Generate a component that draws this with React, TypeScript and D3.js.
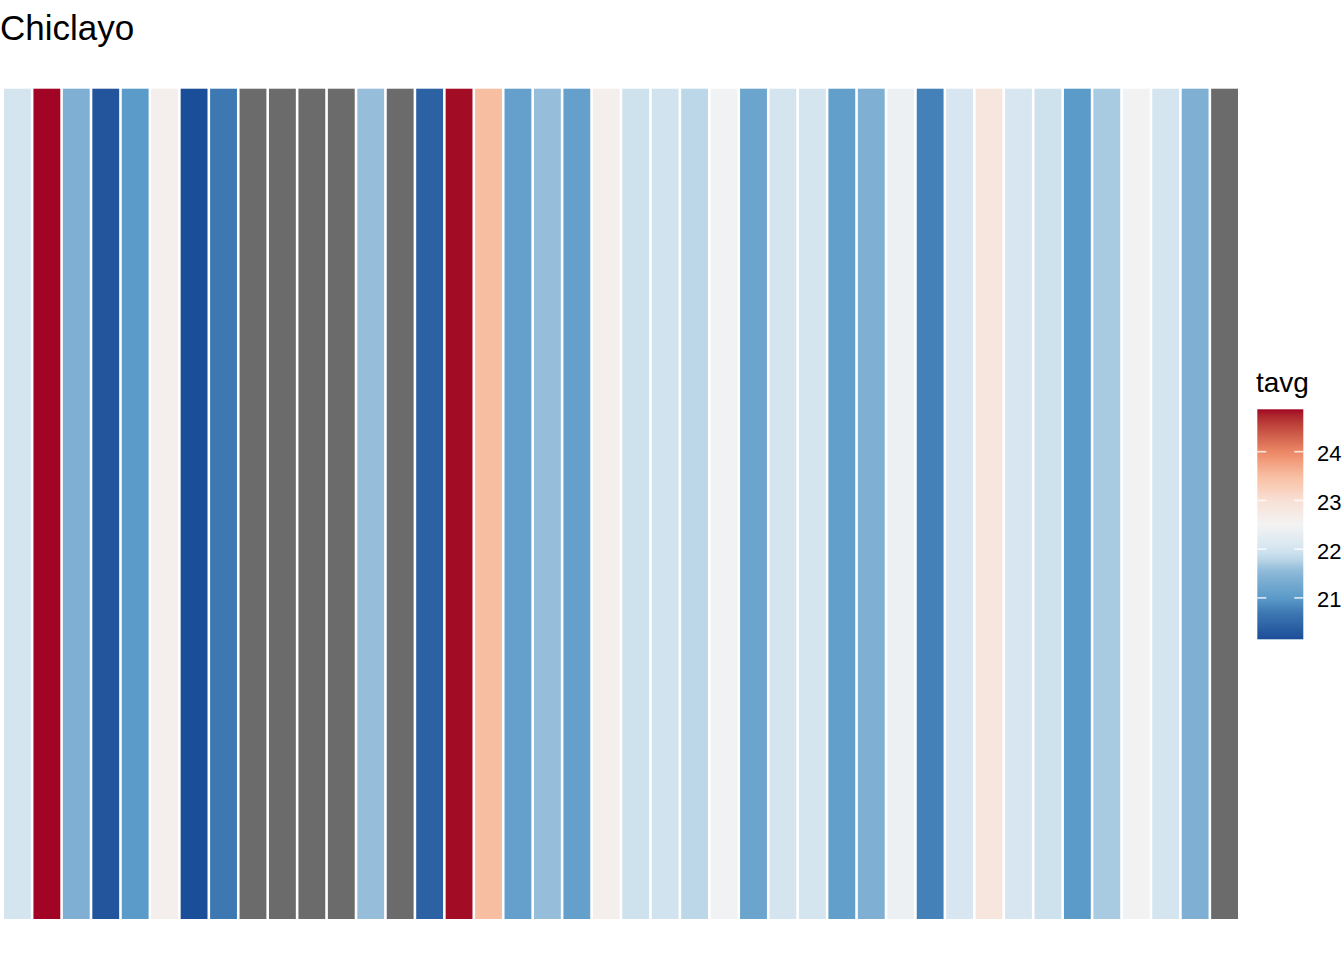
import React, { useEffect, useRef } from 'react';
import * as d3 from 'd3';

// Average temperature per year for Chiclayo (null = missing year)
const years = d3.range(1, 43);
const tavg: (number | null)[] = [
  22.0, 24.87, 21.4, 20.25, 21.0, 22.62, 20.15, 20.7, null, null,
  null, null, 21.6, null, 20.4, 24.85, 23.5, 21.1, 21.6, 21.1,
  22.6, 21.95, 21.97, 21.8, 22.45, 21.17, 22.0, 22.0, 21.08, 21.4,
  22.4, 20.78, 22.05, 22.85, 22.05, 21.95, 21.0, 21.7, 22.52, 22.0,
  21.4, null,
];

// Palette (value -> colour)
const paletteStops = [20.15, 20.7, 21.0, 21.4, 21.6, 21.8, 22.0, 22.5, 23.0, 23.5, 24.0, 24.87];
const paletteColors = [
  '#1b4e98', '#3d78b3', '#5b9bc9', '#7fb0d3', '#96bedb', '#bcd8e8',
  '#d4e5f0', '#f3f3f3', '#f8e0d5', '#f8bea1', '#ec8766', '#a10424',
];
const legendTicks = [21, 22, 23, 24];

const naColor = '#6b6b6b';
const font = '"Liberation Sans", Arial, Helvetica, sans-serif';

const App = () => {
  const chartRef = useRef<SVGSVGElement | null>(null);

  useEffect(() => {
    const width = 1344;
    const height = 960;
    const panel = { left: 4, right: 1238, top: 88.7, bottom: 919 };
    const gap = 2.6;

    const svg = d3.select(chartRef.current);
    svg.selectAll('*').remove();
    svg.attr('width', width).attr('height', height);

    svg.append('rect').attr('width', width).attr('height', height).attr('fill', '#ffffff');

    const color = d3
      .scaleLinear<string>()
      .domain(paletteStops)
      .range(paletteColors)
      .interpolate(d3.interpolateLab)
      .clamp(true);

    // stripes
    const x = d3
      .scaleBand<number>()
      .domain(years)
      .range([panel.left - gap / 2, panel.right + gap / 2])
      .padding(0);

    svg
      .append('g')
      .selectAll('rect')
      .data(tavg)
      .enter()
      .append('rect')
      .attr('x', (d, i) => (x(years[i]) as number) + gap / 2)
      .attr('y', panel.top)
      .attr('width', x.bandwidth() - gap)
      .attr('height', panel.bottom - panel.top)
      .attr('fill', (d) => (d == null ? naColor : color(d)));

    // title
    svg
      .append('text')
      .attr('x', 0)
      .attr('y', 39.5)
      .attr('font-family', font)
      .attr('font-size', 35)
      .attr('fill', '#000')
      .text('Chiclayo');

    // legend
    const valid = tavg.filter((d): d is number => d != null);
    const lo = d3.min(valid) as number;
    const hi = d3.max(valid) as number;
    const bar = { x: 1257.3, w: 46, top: 409.3, bottom: 639.3 };
    const y = d3.scaleLinear().domain([lo, hi]).range([bar.bottom, bar.top]);

    const grad = svg
      .append('defs')
      .append('linearGradient')
      .attr('id', 'tavg-grad')
      .attr('x1', 0)
      .attr('y1', 1)
      .attr('x2', 0)
      .attr('y2', 0);
    d3.range(0, 1.0001, 0.02).forEach((t) => {
      grad
        .append('stop')
        .attr('offset', t)
        .attr('stop-color', color(lo + t * (hi - lo)));
    });

    const legend = svg.append('g');
    legend
      .append('text')
      .attr('x', 1256)
      .attr('y', 391.5)
      .attr('font-family', font)
      .attr('font-size', 28)
      .attr('fill', '#000')
      .text('tavg');

    legend
      .append('rect')
      .attr('x', bar.x)
      .attr('y', bar.top)
      .attr('width', bar.w)
      .attr('height', bar.bottom - bar.top)
      .attr('fill', 'url(#tavg-grad)');

    const ticks = legend.selectAll('g.tick').data(legendTicks).enter().append('g').attr('class', 'tick');
    ticks
      .append('line')
      .attr('x1', bar.x)
      .attr('x2', bar.x + 9)
      .attr('y1', (d) => y(d))
      .attr('y2', (d) => y(d))
      .attr('stroke', '#ffffff')
      .attr('stroke-opacity', 0.8)
      .attr('stroke-width', 1.6);
    ticks
      .append('line')
      .attr('x1', bar.x + bar.w - 9)
      .attr('x2', bar.x + bar.w)
      .attr('y1', (d) => y(d))
      .attr('y2', (d) => y(d))
      .attr('stroke', '#ffffff')
      .attr('stroke-opacity', 0.8)
      .attr('stroke-width', 1.6);
    ticks
      .append('text')
      .attr('x', 1317)
      .attr('y', (d) => y(d) + 9.5)
      .attr('font-family', font)
      .attr('font-size', 22)
      .attr('fill', '#000')
      .text((d) => d);
  }, []);

  return (
    <svg
      ref={chartRef}
      style={{ position: 'absolute', left: 0, top: 0, display: 'block' }}
    />
  );
};

export default App;
